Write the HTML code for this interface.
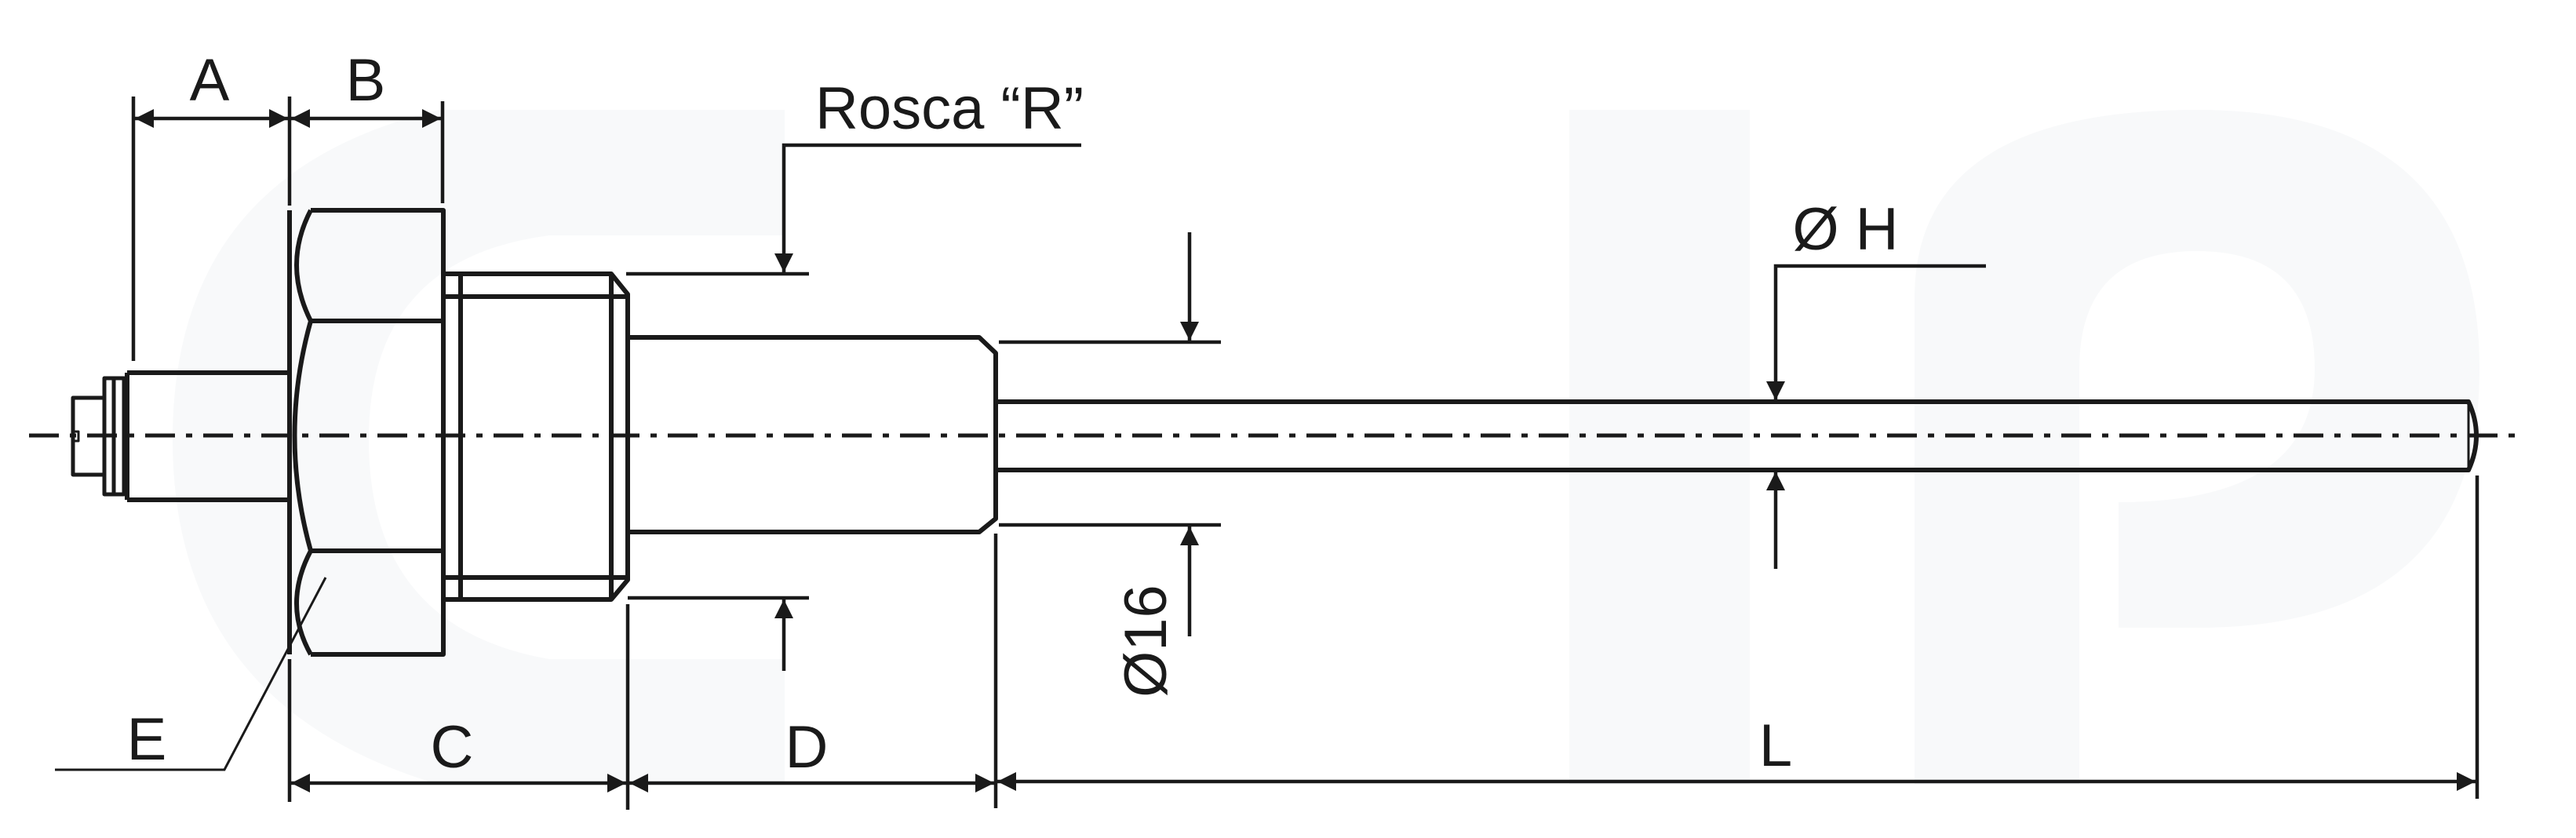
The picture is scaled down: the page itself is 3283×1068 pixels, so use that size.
<!DOCTYPE html>
<html><head><meta charset="utf-8"><style>
html,body{margin:0;padding:0;background:#fff;}
svg{display:block;}
text{font-family:"Liberation Sans",Arial,sans-serif;fill:#1a1a1a;}
</style></head><body>
<svg width="3283" height="1068" viewBox="0 0 3283 1068" xmlns="http://www.w3.org/2000/svg">
<defs>
<marker id="ar" viewBox="0 0 10 10" refX="10" refY="5" markerWidth="38" markerHeight="24" markerUnits="userSpaceOnUse" orient="auto-start-reverse">
<path d="M0,0 L10,5 L0,10 z" fill="#1a1a1a"/></marker>
</defs>
<rect width="3283" height="1068" fill="#fff"/>
<!-- faint watermark -->
<g fill="#f8f9fa">
<path d="M560,140 L1000,140 L1000,300 L700,300 Q470,330 470,560 Q470,800 700,840 L1000,840 L1000,1000 L560,1000 Q220,900 220,560 Q220,220 560,140z"/>
<rect x="2000" y="140" width="230" height="860"/>
<path d="M2440,380 Q2440,140 2800,140 Q3160,140 3160,470 Q3160,800 2800,800 L2700,800 L2700,640 Q2950,640 2950,470 Q2950,320 2800,320 Q2650,320 2650,470 L2650,1000 L2440,1000z"/>
</g>
<g stroke="#1a1a1a" fill="none" stroke-width="6" stroke-linejoin="round">
<path d="M93,507 L133,507 L133,605 L93,605 Z" stroke-width="5"/>
<path d="M93,550 L100,550 L100,562 L93,562" stroke-width="3"/>
<rect x="133" y="482" width="12" height="148" stroke-width="5"/>
<rect x="145" y="482" width="13" height="148" stroke-width="5"/>
<path d="M162,475 L369,475 M162,637 L369,637 M162,475 L162,637"/>
<path d="M396,268 L565,268 L565,834 L396,834"/>
<path d="M369,268 L369,834"/>
<path d="M396,268 Q360,337 396,409 Q355,555 396,702 Q360,770 396,834"/>
<path d="M396,409 L565,409 M396,702 L565,702"/>
<path d="M565,349 L779,349 L800,375 L800,739 L779,764 L565,764"/>
<path d="M565,378 L800,378 M565,736 L800,736 M587,349 L587,764 M779,349 L779,764"/>
<path d="M800,430 L1248,430 L1269,450 L1269,661 L1248,678 L800,678"/>
<path d="M1269,512 L3146,512 Q3166,555 3146,599 L1269,599"/>
<path d="M3146,512 L3146,599" stroke-width="3"/>
</g>
<line x1="37" y1="555" x2="3213" y2="555" stroke="#1a1a1a" stroke-width="5" stroke-dasharray="38 14 8 14"/>
<g stroke="#1a1a1a" fill="none" stroke-width="4.5">
<line x1="170" y1="123" x2="170" y2="460"/>
<line x1="369" y1="123" x2="369" y2="262"/>
<line x1="369" y1="840" x2="369" y2="1022"/>
<line x1="564" y1="129" x2="564" y2="259"/>
<line x1="172" y1="151" x2="367" y2="151" marker-start="url(#ar)" marker-end="url(#ar)"/>
<line x1="371" y1="151" x2="562" y2="151" marker-start="url(#ar)" marker-end="url(#ar)"/>
<polyline points="1378,185 999,185 999,347" marker-end="url(#ar)"/>
<line x1="798" y1="349" x2="1031" y2="349"/>
<line x1="800" y1="762" x2="1031" y2="762"/>
<line x1="999" y1="855" x2="999" y2="764" marker-end="url(#ar)"/>
<line x1="800" y1="770" x2="800" y2="1032"/>
<line x1="1269" y1="680" x2="1269" y2="1030"/>
<line x1="3157" y1="606" x2="3157" y2="1018"/>
<line x1="371" y1="998" x2="798" y2="998" marker-start="url(#ar)" marker-end="url(#ar)"/>
<line x1="802" y1="998" x2="1267" y2="998" marker-start="url(#ar)" marker-end="url(#ar)"/>
<line x1="1271" y1="996" x2="3155" y2="996" marker-start="url(#ar)" marker-end="url(#ar)"/>
<polyline points="70,981 286,981 415,736" stroke-width="3"/>
<line x1="1273" y1="436" x2="1556" y2="436"/>
<line x1="1273" y1="669" x2="1556" y2="669"/>
<line x1="1516" y1="296" x2="1516" y2="434" marker-end="url(#ar)"/>
<line x1="1516" y1="811" x2="1516" y2="671" marker-end="url(#ar)"/>
<polyline points="2531,339 2263,339 2263,510" marker-end="url(#ar)"/>
<line x1="2263" y1="725" x2="2263" y2="601" marker-end="url(#ar)"/>
</g>
<g font-size="76" text-anchor="middle">
<text x="267" y="128">A</text>
<text x="466" y="128">B</text>
<text x="576" y="978">C</text>
<text x="1028" y="978">D</text>
<text x="187" y="968">E</text>
<text x="2263" y="976">L</text>
<text x="2352" y="318">Ø H</text>
<text x="1210" y="164">Rosca “R”</text>
<text x="0" y="0" transform="translate(1486,817) rotate(-90)">Ø16</text>
</g>
</svg>
</body></html>
